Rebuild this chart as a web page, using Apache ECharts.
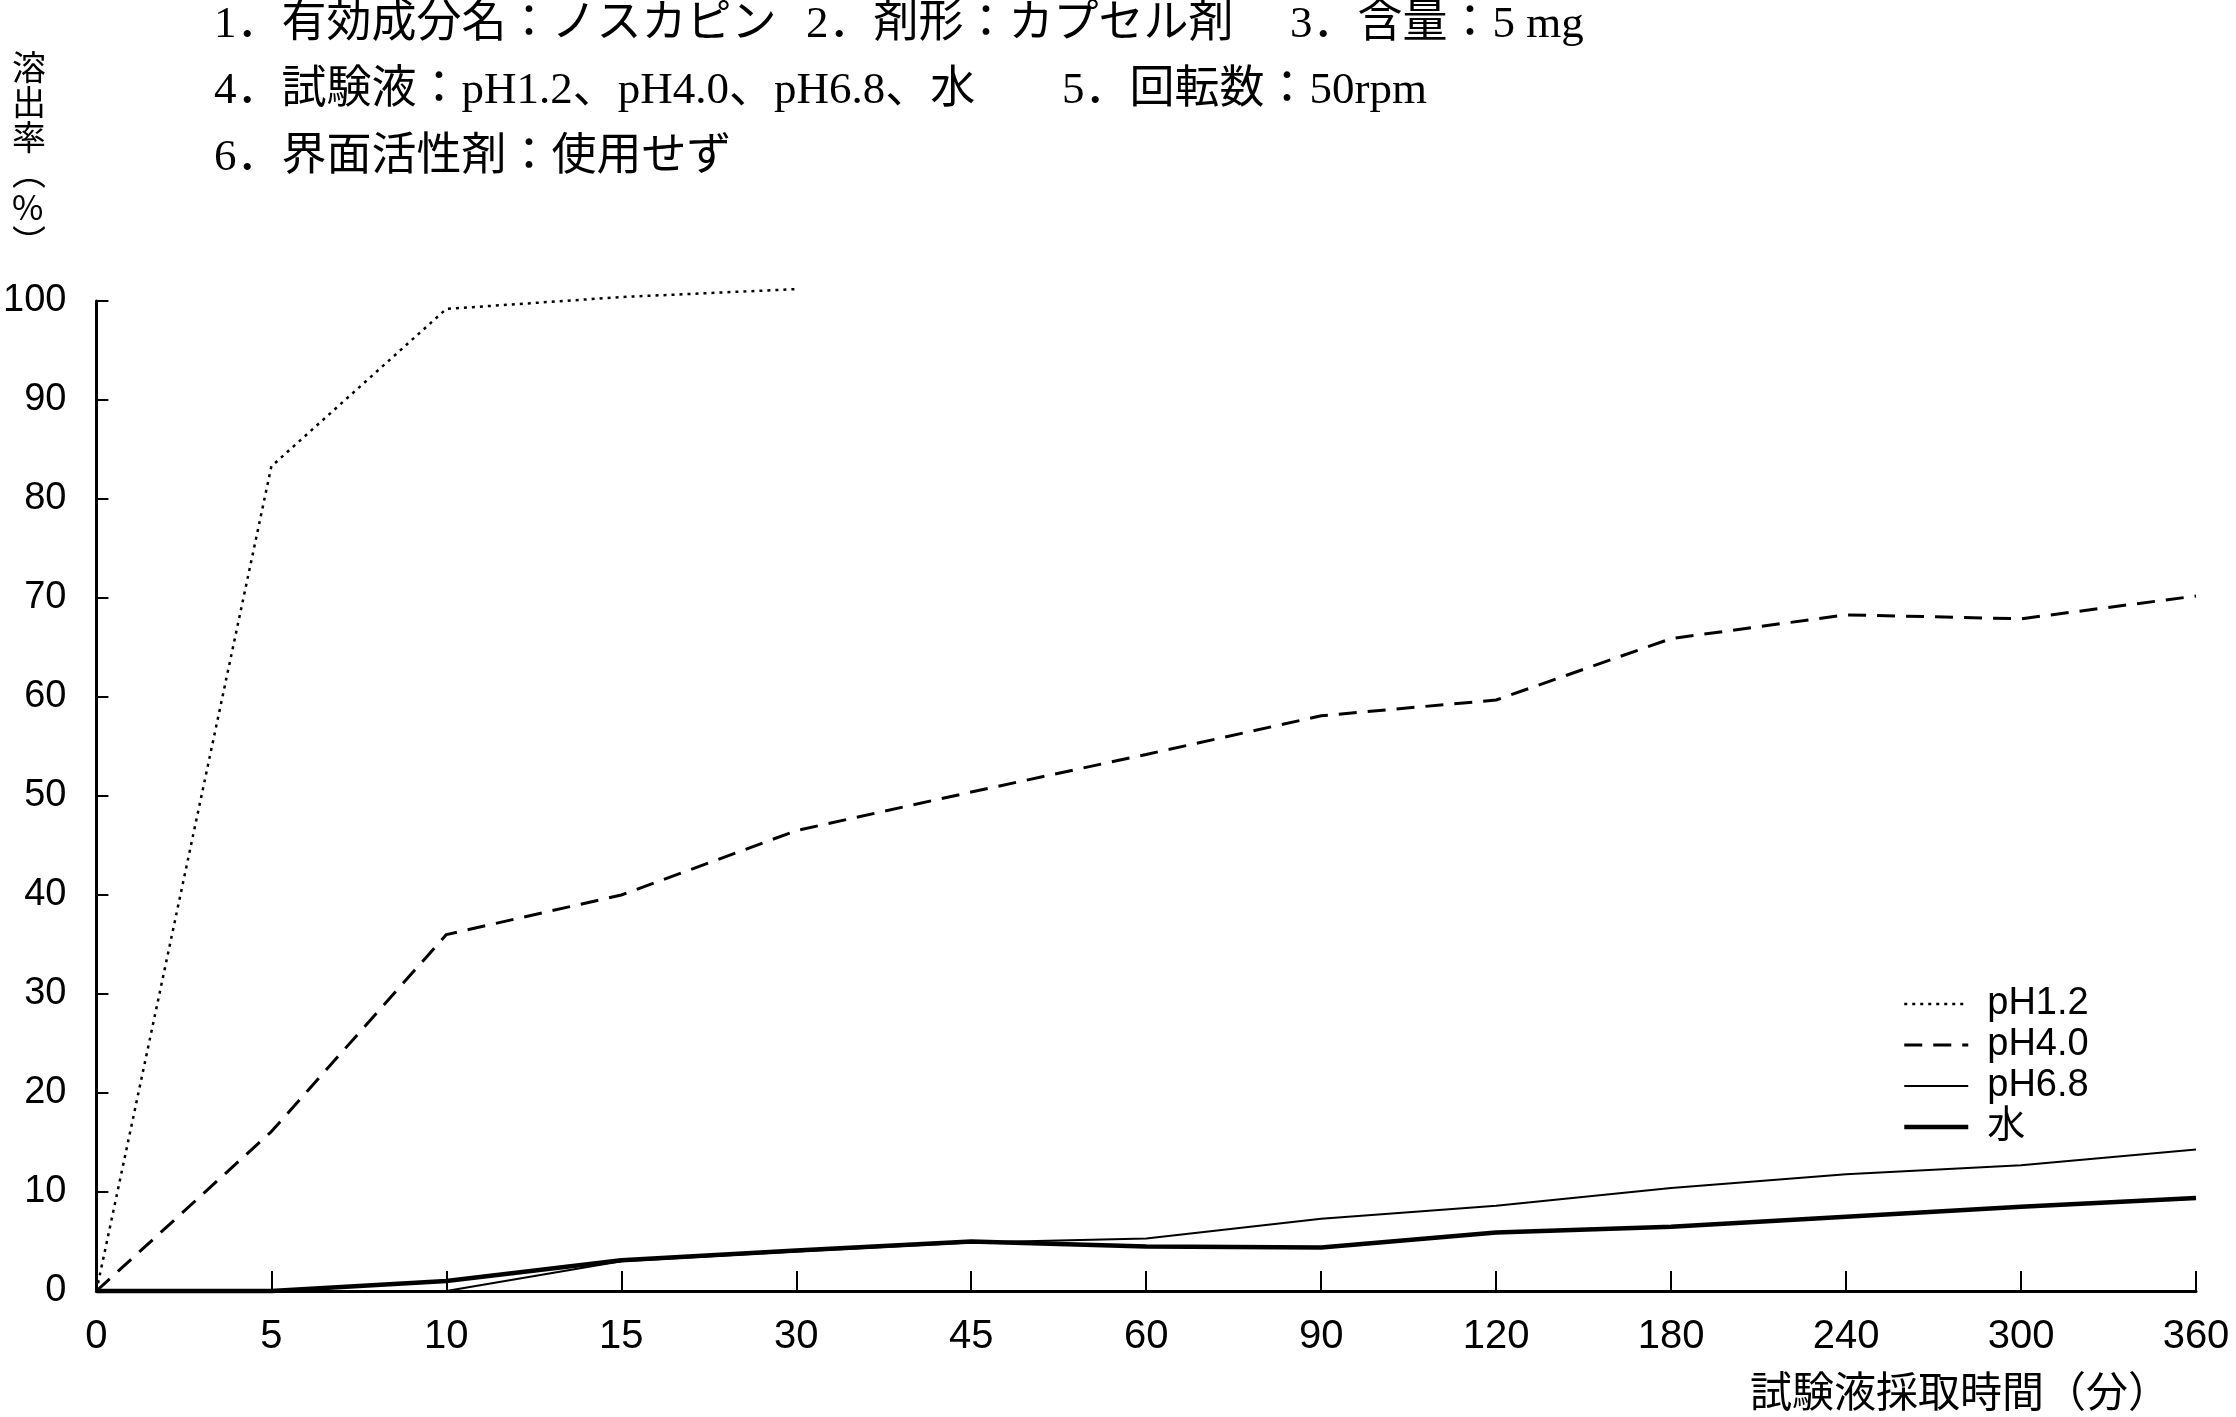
<!DOCTYPE html>
<html>
<head>
<meta charset="utf-8">
<script src="https://cdn.jsdelivr.net/npm/echarts@6/dist/echarts.min.js"></script>
<style>
  html, body { margin: 0; padding: 0; background: #fff; }
  #main { width: 2236px; height: 1417px; }
</style>
</head>
<body>
<div id="main"></div>
<script>
// 試験液採取時間（分）
var times = ["0", "5", "10", "15", "30", "45", "60", "90", "120", "180", "240", "300", "360"];
var seriesNames = ["pH1.2", "pH4.0", "pH6.8", "水"];
// 溶出率（%）
var ph12 = [0, 83.3, 99.2, 100.4, 101.2];
var ph40 = [0, 16.1, 36.0, 40.0, 46.5, 50.4, 54.2, 58.1, 59.7, 65.9, 68.3, 67.9, 70.2];
var ph68 = [0, 0, 0, 3.0, 4.0, 4.9, 5.3, 7.3, 8.6, 10.4, 11.8, 12.7, 14.3];
var water = [0, 0, 1.0, 3.1, 4.1, 5.0, 4.5, 4.4, 5.9, 6.5, 7.5, 8.5, 9.4];
var yTicks = [0, 100, 10];

var headerFont = "'Liberation Serif', 'Noto Sans CJK JP', serif";
var headerLines = [
  { text: "1．有効成分名：ノスカピン", x: 214, y: 26 },
  { text: "2．剤形：カプセル剤", x: 806, y: 26 },
  { text: "3．含量：5 mg", x: 1290, y: 26 },
  { text: "4．試験液：pH1.2、pH4.0、pH6.8、水", x: 214, y: 92 },
  { text: "5．回転数：50rpm", x: 1062, y: 92 },
  { text: "6．界面活性剤：使用せず", x: 214, y: 159 }
];

// line styles, shared by series and legend
var styles = [
  { color: "#000", width: 2.5, type: [3, 5] },
  { color: "#000", width: 3, type: [18, 11] },
  { color: "#000", width: 2 },
  { color: "#000", width: 4.5 }
];

var myChart = echarts.init(document.getElementById("main"));

var graphics = headerLines.map(function (h) {
  return {
    type: "text",
    left: h.x,
    top: h.y - 23,
    style: { text: h.text, fontSize: 45, fontFamily: headerFont, fill: "#000" }
  };
});
graphics.push({
  type: "text",
  left: 12,
  top: 50,
  style: {
    text: "溶\n出\n率\n︵\n%\n︶",
    fontSize: 34,
    fontFamily: "'Noto Sans CJK JP', sans-serif",
    lineHeight: 35,
    fill: "#000"
  }
});
graphics.push({
  type: "text",
  right: 66,
  top: 1370,
  style: {
    text: "試験液採取時間（分）",
    fontSize: 42,
    fontFamily: "'Noto Sans CJK JP', sans-serif",
    fill: "#000"
  }
});

myChart.setOption({
  backgroundColor: "#fff",
  animation: false,
  graphic: graphics,
  legend: {
    orient: "vertical",
    left: 1897,
    top: 980,
    itemWidth: 64,
    itemHeight: 14,
    itemGap: 3,
    data: seriesNames.map(function (n, i) {
      return { name: n, lineStyle: styles[i], itemStyle: { opacity: 0 } };
    }),
    textStyle: {
      fontFamily: "'Liberation Sans', 'Noto Sans CJK JP', sans-serif",
      fontSize: 38,
      color: "#000",
      padding: [0, 0, 0, 14]
    }
  },
  grid: { left: 96, right: 40, top: 301, bottom: 126 },
  xAxis: {
    type: "category",
    data: times,
    boundaryGap: false,
    axisLine: { lineStyle: { color: "#000", width: 3 } },
    axisTick: { inside: true, length: 20, lineStyle: { color: "#000", width: 2 } },
    axisLabel: {
      margin: 26,
      color: "#000",
      fontSize: 40,
      fontFamily: "'Liberation Sans Narrow', 'Liberation Sans', sans-serif"
    },
    splitLine: { show: false }
  },
  yAxis: {
    type: "value",
    min: yTicks[0],
    max: yTicks[1],
    interval: yTicks[2],
    axisLine: { show: true, lineStyle: { color: "#000", width: 3 } },
    axisTick: { show: true, inside: true, length: 12, lineStyle: { color: "#000", width: 2 } },
    axisLabel: {
      margin: 30,
      color: "#000",
      fontSize: 38,
      fontFamily: "'Liberation Sans', sans-serif"
    },
    splitLine: { show: false }
  },
  series: [ph12, ph40, ph68, water].map(function (d, i) {
    return {
      name: seriesNames[i],
      type: "line",
      data: d,
      symbol: "none",
      clip: false,
      itemStyle: { color: "#000" },
      lineStyle: styles[i]
    };
  })
});
</script>
</body>
</html>
